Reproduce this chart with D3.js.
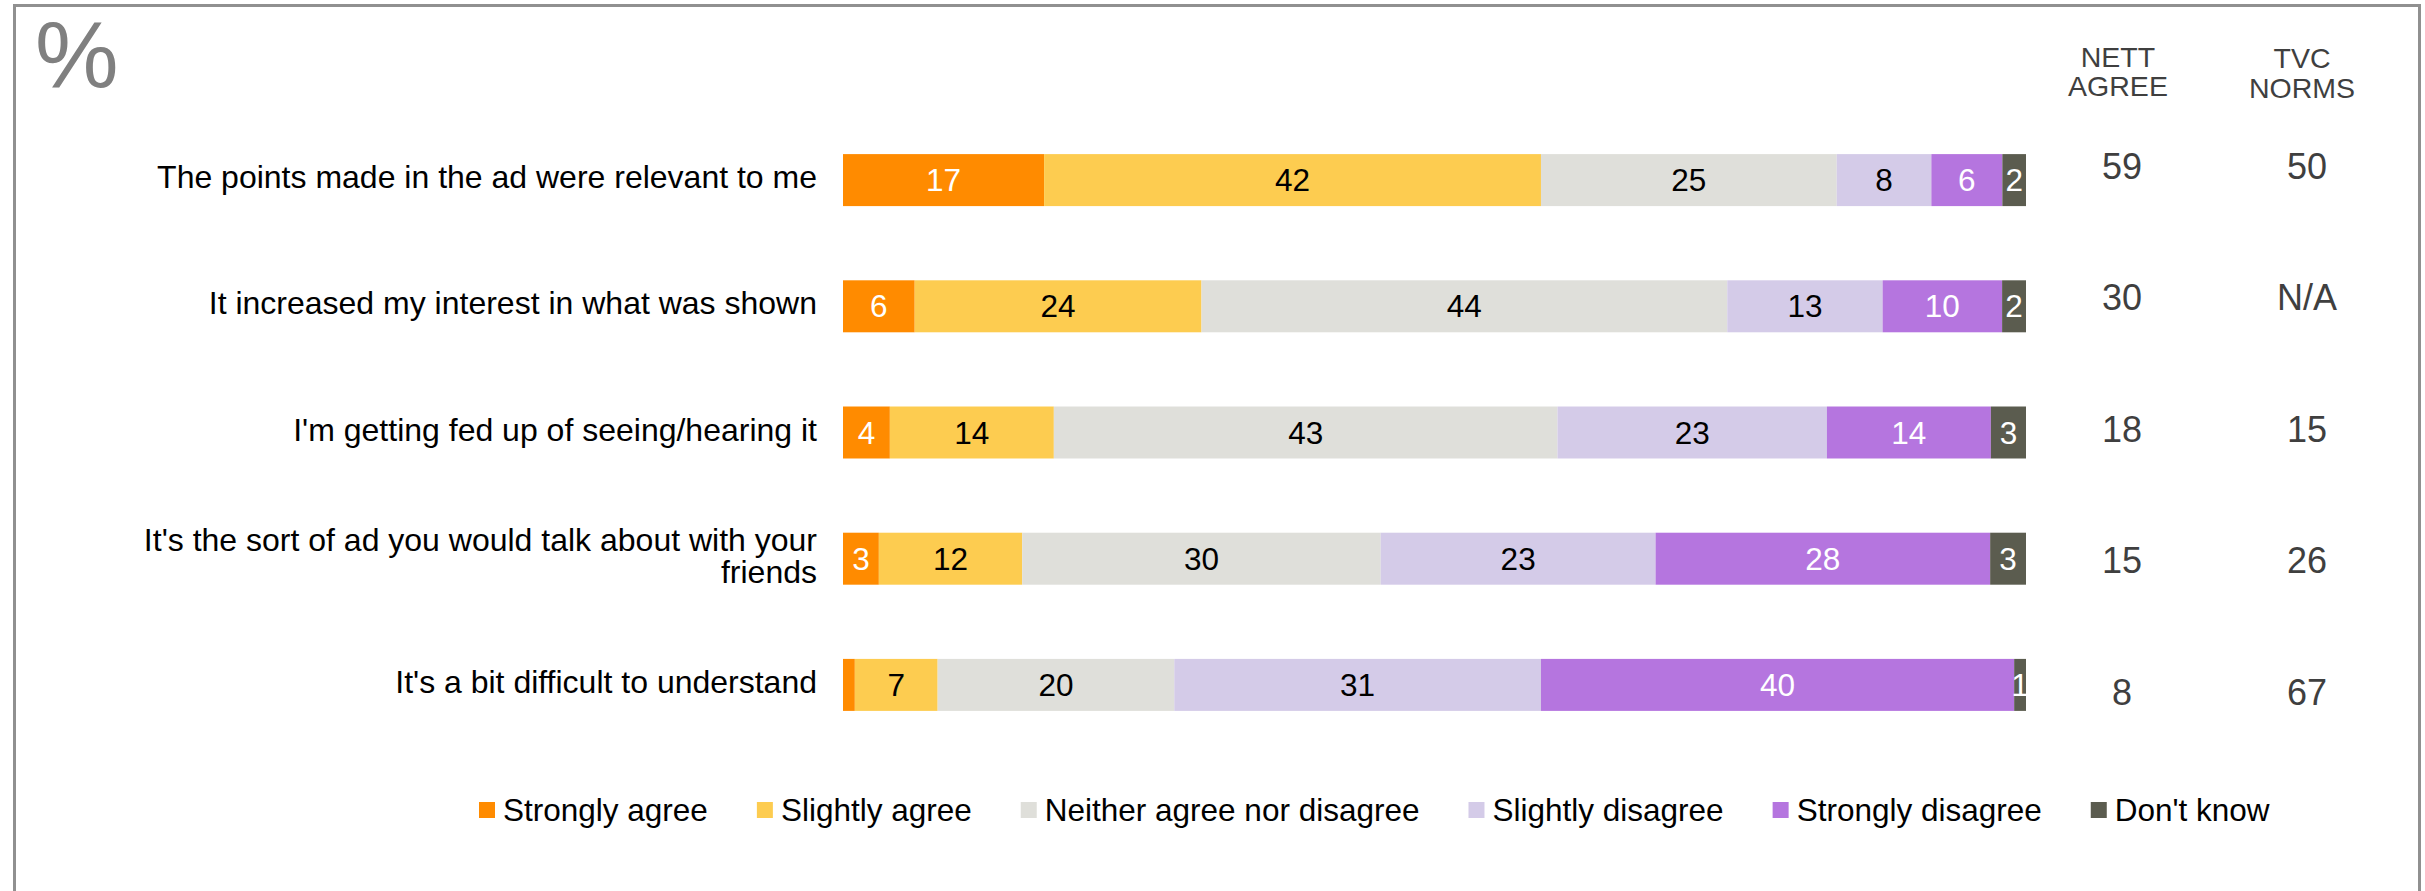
<!DOCTYPE html>
<html>
<head>
<meta charset="utf-8">
<script src="https://cdn.jsdelivr.net/npm/d3@7"></script>
<style>
  body { margin: 0; background: #fff; }
  svg { display: block; font-family: "Liberation Sans", Arial, sans-serif; }
</style>
</head>
<body>
<script>
const categories = [
  "The points made in the ad were relevant to me",
  "It increased my interest in what was shown",
  "I'm getting fed up of seeing/hearing it",
  "It's the sort of ad you would talk about with your\nfriends",
  "It's a bit difficult to understand"
];
const seriesNames = ["Strongly agree", "Slightly agree", "Neither agree nor disagree", "Slightly disagree", "Strongly disagree", "Don't know"];
const stronglyAgree    = [17, 6, 4, 3, 1];
const slightlyAgree    = [42, 24, 14, 12, 7];
const neither          = [25, 44, 43, 30, 20];
const slightlyDisagree = [8, 13, 23, 23, 31];
const stronglyDisagree = [6, 10, 14, 28, 40];
const dontKnow         = [2, 2, 3, 3, 1];
const nettAgree = ["59", "30", "18", "15", "8"];
const tvcNorms  = ["50", "N/A", "15", "26", "67"];
const columnHeaders = [["NETT", "AGREE"], ["TVC", "NORMS"]];
const colors = ["#ff8b00", "#fdcc50", "#dfdfda", "#d4cbe8", "#b575df", "#5b5c4f"];
const labelColors = ["#fff", "#000", "#000", "#000", "#fff", "#fff"];
// the tiny orange piece of the last row has no label in the original
const hiddenLabels = [[4, 0]];

const W = 2425, H = 891;
const svg = d3.select("body").append("svg")
  .attr("width", W)
  .attr("height", H);

// frame
svg.append("rect")
  .attr("x", 14.5).attr("y", 5.5)
  .attr("width", 2405).attr("height", 940)
  .attr("fill", "none")
  .attr("stroke", "#909090")
  .attr("stroke-width", 3);

svg.append("text")
  .attr("x", 35).attr("y", 87)
  .attr("font-size", 94)
  .attr("fill", "#808080")
  .text("%");

const rows = categories.map((c, i) => ({
  cat: c,
  s0: stronglyAgree[i], s1: slightlyAgree[i], s2: neither[i],
  s3: slightlyDisagree[i], s4: stronglyDisagree[i], s5: dontKnow[i]
}));
const keys = ["s0", "s1", "s2", "s3", "s4", "s5"];
const stacked = d3.stack().keys(keys).offset(d3.stackOffsetExpand)(rows);

const x = d3.scaleLinear().domain([0, 1]).range([843, 2026]);
const y = d3.scaleBand()
  .domain(categories)
  .range([117, 748])
  .paddingInner(0.588)
  .paddingOuter(0.294);

const layers = svg.append("g")
  .selectAll("g")
  .data(stacked)
  .enter()
  .append("g")
  .attr("fill", (d, i) => colors[i]);

layers.selectAll("rect")
  .data(d => d)
  .enter()
  .append("rect")
  .attr("x", d => x(d[0]))
  .attr("y", d => y(d.data.cat))
  .attr("width", d => x(d[1]) - x(d[0]))
  .attr("height", y.bandwidth());

layers.each(function(layer, si) {
  d3.select(this).selectAll("text")
    .data(layer.map((d, ri) => ({ d, ri })).filter(o => !hiddenLabels.some(h => h[0] === o.ri && h[1] === si)))
    .enter()
    .append("text")
    .attr("x", o => (x(o.d[0]) + x(o.d[1])) / 2)
    .attr("y", o => y(o.d.data.cat) + y.bandwidth() / 2)
    .attr("dy", "0.35em")
    .attr("text-anchor", "middle")
    .attr("font-size", 31.5)
    .attr("fill", labelColors[si])
    .text(o => o.d.data[layer.key]);
});

// category labels
const catG = svg.append("g");
categories.forEach(c => {
  const lines = c.split("\n");
  const lh = 32;
  const cy = y(c) + y.bandwidth() / 2;
  const t = catG.append("text")
    .attr("text-anchor", "end")
    .attr("font-size", 32)
    .attr("fill", "#000");
  lines.forEach((ln, k) => {
    t.append("tspan")
      .attr("x", 817)
      .attr("y", cy + 8 + (k - (lines.length - 1) / 2) * lh)
      .text(ln);
  });
});

// side columns
const colX = [2122, 2307];
const vy = d3.scalePoint().domain(categories).range([166, 692]);
[nettAgree, tvcNorms].forEach((vals, ci) => {
  svg.append("g")
    .selectAll("text")
    .data(vals)
    .enter()
    .append("text")
    .attr("x", colX[ci])
    .attr("y", (d, i) => vy(categories[i]))
    .attr("dy", "0.36em")
    .attr("text-anchor", "middle")
    .attr("font-size", 36)
    .attr("fill", "#3f3f3f")
    .text(d => d);
});

const headerY = [[67, 96], [68, 98]];
const headerX = [2118, 2302];
columnHeaders.forEach((lines, ci) => {
  lines.forEach((ln, k) => {
    svg.append("text")
      .attr("x", headerX[ci])
      .attr("y", headerY[ci][k])
      .attr("text-anchor", "middle")
      .attr("font-size", 28.5)
      .attr("fill", "#3f3f3f")
      .text(ln);
  });
});

// legend
const legend = svg.append("g");
let lx = 479;
seriesNames.forEach((name, i) => {
  legend.append("rect")
    .attr("x", lx).attr("y", 802)
    .attr("width", 16).attr("height", 16)
    .attr("fill", colors[i]);
  const t = legend.append("text")
    .attr("x", lx + 24)
    .attr("y", 821)
    .attr("font-size", 31.5)
    .attr("fill", "#000")
    .text(name);
  lx += 24 + t.node().getComputedTextLength() + 49;
});
</script>
</body>
</html>
